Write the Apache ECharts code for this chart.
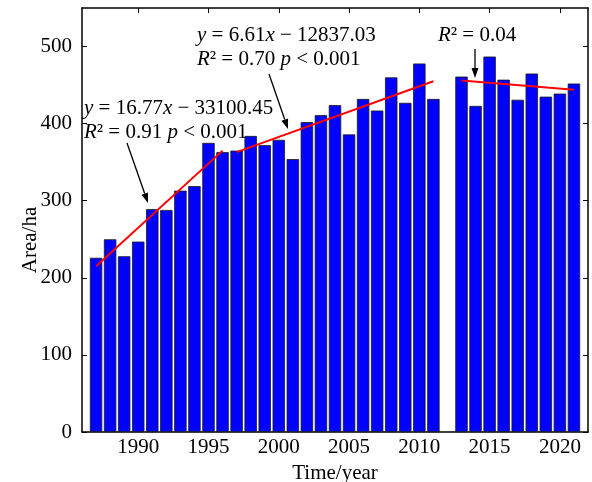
<!DOCTYPE html>
<html>
<head>
<meta charset="utf-8">
<script src="https://cdn.jsdelivr.net/npm/echarts@6/dist/echarts.min.js"></script>
<style>
  html, body { margin: 0; padding: 0; background: #fff; }
  #chart { width: 592px; height: 482px; }
</style>
</head>
<body>
<div id="chart"></div>
<script>
// years (2012 has no data)
var years = [1987, 1988, 1989, 1990, 1991, 1992, 1993, 1994, 1995, 1996, 1997, 1998,
  1999, 2000, 2001, 2002, 2003, 2004, 2005, 2006, 2007, 2008, 2009, 2010, 2011,
  2013, 2014, 2015, 2016, 2017, 2018, 2019, 2020, 2021];
var area = [226, 250, 228, 247, 289, 288, 313, 319, 375, 363, 365, 384,
  372, 379, 354, 402, 411, 424, 386, 432, 417, 460, 427, 478, 432,
  461, 423, 487, 457, 431, 465, 435, 439, 452];
// fitted trend lines
var trend1 = [[1987, 215], [1996, 365]];
var trend2 = [[1997, 363], [2011, 455]];
var trend3 = [[2013, 456], [2021, 444]];
var xTicks = [1990, 1995, 2000, 2005, 2010, 2015, 2020];
var yTicks = [0, 100, 200, 300, 400, 500];

var font = 'Liberation Serif';
var barData = years.map(function (y, i) { return [y, area[i]]; });

var myChart = echarts.init(document.getElementById('chart'));

var xBase = {
  type: 'value', min: 1986, max: 2022,
  splitLine: { show: false },
  axisLine: { show: true, onZero: false, lineStyle: { color: '#000', width: 1.5 } },
  axisTick: { show: true, inside: true, length: 5, customValues: xTicks, lineStyle: { color: '#000' } }
};
var yBase = {
  type: 'value', min: 0, max: 550,
  splitLine: { show: false },
  axisLine: { show: true, lineStyle: { color: '#000', width: 1.5 } },
  axisTick: { show: true, inside: true, length: 5, customValues: yTicks, lineStyle: { color: '#000' } }
};

var label = { fontFamily: font, fontSize: 21, color: '#000', formatter: function (v) { return String(v); } };

function lineSeries(data) {
  return {
    type: 'line', data: data, xAxisIndex: 0, yAxisIndex: 0,
    symbol: 'none', silent: true, z: 5,
    lineStyle: { color: '#ff0000', width: 2 }
  };
}

function arrow(x1, y1, x2, y2) {
  var a = Math.atan2(y2 - y1, x2 - x1), L = 10, W = 3.5;
  var bx = x2 - L * Math.cos(a), by = y2 - L * Math.sin(a);
  return [
    { type: 'line', z: 10, shape: { x1: x1, y1: y1, x2: bx, y2: by }, style: { stroke: '#000', lineWidth: 1.3 } },
    { type: 'polygon', z: 10, shape: { points: [[x2, y2],
      [bx + W * Math.sin(a), by - W * Math.cos(a)],
      [bx - W * Math.sin(a), by + W * Math.cos(a)]] }, style: { fill: '#000' } }
  ];
}

var rich = {
  i: { fontFamily: font, fontSize: 21, fontStyle: 'italic', fill: '#000' },
  n: { fontFamily: font, fontSize: 21, fill: '#000' }
};
function note(x, y, text) {
  return { type: 'text', x: x, y: y, z: 10, style: { text: text, rich: rich, fill: '#000', verticalAlign: 'middle' } };
}

var graphics = [
  note(197, 35, '{i|y}{n| = 6.61}{i|x}{n| − 12837.03}'),
  note(197, 59, '{i|R}{n|² = 0.70 }{i|p}{n| < 0.001}'),
  note(84, 108, '{i|y}{n| = 16.77}{i|x}{n| − 33100.45}'),
  note(84, 132, '{i|R}{n|² = 0.91 }{i|p}{n| < 0.001}'),
  note(438, 35, '{i|R}{n|² = 0.04}'),
  { type: 'text', x: 30, y: 240, rotation: Math.PI / 2, z: 10,
    style: { text: 'Area/ha', fontFamily: font, fontSize: 21, fill: '#000', align: 'center', verticalAlign: 'middle' } }
].concat(arrow(127, 143, 148, 203), arrow(269, 74, 288, 129), arrow(475, 49, 475, 78));

myChart.setOption({
  backgroundColor: '#fff',
  animation: false,
  grid: { left: 82, right: 4, top: 8, bottom: 50, containLabel: false, outerBoundsMode: 'none' },
  xAxis: [
    Object.assign({}, xBase, {
      position: 'bottom',
      name: 'Time/year', nameLocation: 'middle', nameGap: 22,
      nameTextStyle: { fontFamily: font, fontSize: 21, color: '#000' },
      axisLabel: Object.assign({ customValues: xTicks, margin: 5 }, label)
    }),
    Object.assign({}, xBase, { position: 'top', axisLabel: { show: false } })
  ],
  yAxis: [
    Object.assign({}, yBase, {
      position: 'left',
      axisLabel: Object.assign({ customValues: yTicks, margin: 10 }, label)
    }),
    Object.assign({}, yBase, { position: 'right', axisLabel: { show: false } })
  ],
  series: [
    {
      type: 'bar', data: barData, xAxisIndex: 0, yAxisIndex: 0,
      barWidth: 12.4,
      itemStyle: { color: '#0000ff', borderColor: '#1a1a1a', borderWidth: 0.8 }
    },
    lineSeries(trend1),
    lineSeries(trend2),
    lineSeries(trend3)
  ],
  graphic: graphics
});
</script>
</body>
</html>
